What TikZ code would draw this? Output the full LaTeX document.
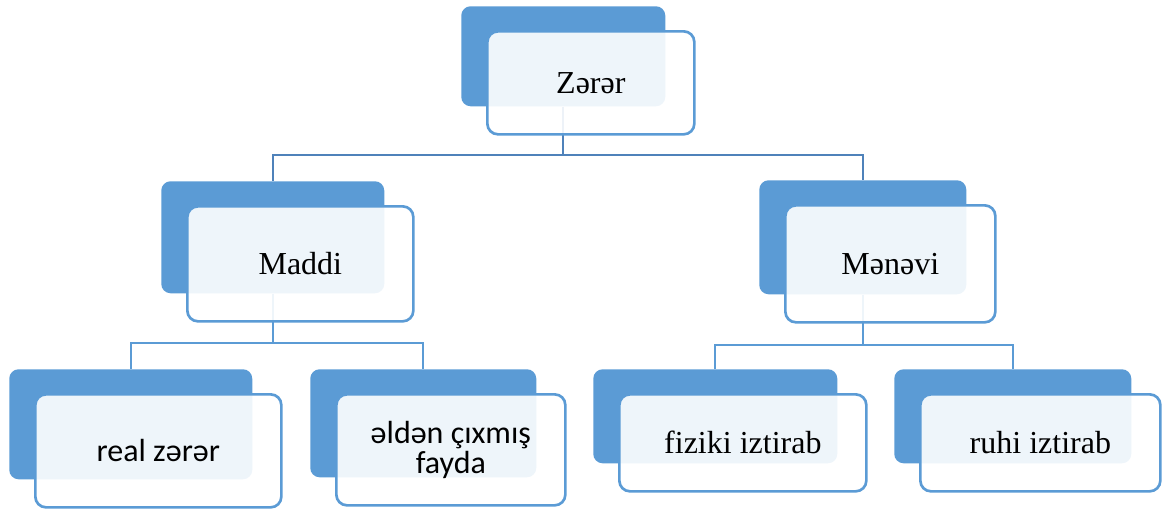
\documentclass[tikz,border=0pt]{standalone}
\usepackage{fontspec}
\setmainfont{Liberation Serif}
\newfontfamily\calibri{Carlito}
\usetikzlibrary{backgrounds}
\definecolor{smartblue}{HTML}{5B9BD5}
\definecolor{linkblue}{HTML}{4F82BA}

\begin{document}
\begin{tikzpicture}[x=0.75pt, y=-0.75pt]
            \tikzset{
                backbox/.style={fill=smartblue, rounded corners=7pt, inner sep=0pt, anchor=north west},
                frontbox/.style={draw=smartblue, line width=2pt, fill=white, fill opacity=0.9, text opacity=1,
                    rounded corners=8pt, inner sep=0pt, anchor=north west, align=center,
                    font=\fontsize{24}{23}\selectfont},
                link/.style={draw=#1, line width=1.8pt},
                link/.default=smartblue
            }
            \useasboundingbox (0,0) rectangle (1166,508);
            \newcommand{\twin}[6]{
                \node[backbox, minimum width=#4*0.75pt, minimum height=#5*0.75pt] (#1-b) at (#2, #3) {};
                \node[frontbox, minimum width=(#4+3)*0.75pt, minimum height=(#5+3)*0.75pt] (#1) at (#2+25, #3+24) {#6};
            }
            \twin{zerer}{461}{6}{204}{100}{Zərər};
            \twin{maddi}{161}{181}{223}{112}{Maddi};
            \twin{menevi}{759}{180}{207}{114}{Mənəvi};
            \twin{real}{9}{369}{243}{110}{\calibri real zərər};
            \twin{fayda}{310}{369}{226}{108}{\calibri əldən çıxmış\\\calibri fayda};
            \twin{fiziki}{593}{369}{244}{94}{fiziki iztirab};
            \twin{ruhi}{894}{369}{237}{94}{ruhi iztirab};
            \coordinate (bar0) at (0, 155);
            \coordinate (bar1) at (0, 343);
            \coordinate (bar2) at (0, 345);
            \begin{pgfonlayer}{background}
                \draw[link=linkblue] (zerer-b.south) |- (bar0 -| maddi-b.north) -- (maddi-b.north);
                \draw[link=linkblue] (zerer-b.south) |- (bar0 -| menevi-b.north) -- (menevi-b.north);
                \draw[link] (maddi-b.south) |- (bar1 -| real-b.north) -- (real-b.north);
                \draw[link] (maddi-b.south) |- (bar1 -| fayda-b.north) -- (fayda-b.north);
                \draw[link] (menevi-b.south) |- (bar2 -| fiziki-b.north) -- (fiziki-b.north);
                \draw[link] (menevi-b.south) |- (bar2 -| ruhi-b.north) -- (ruhi-b.north);
            \end{pgfonlayer}
        \end{tikzpicture}
\end{document}
